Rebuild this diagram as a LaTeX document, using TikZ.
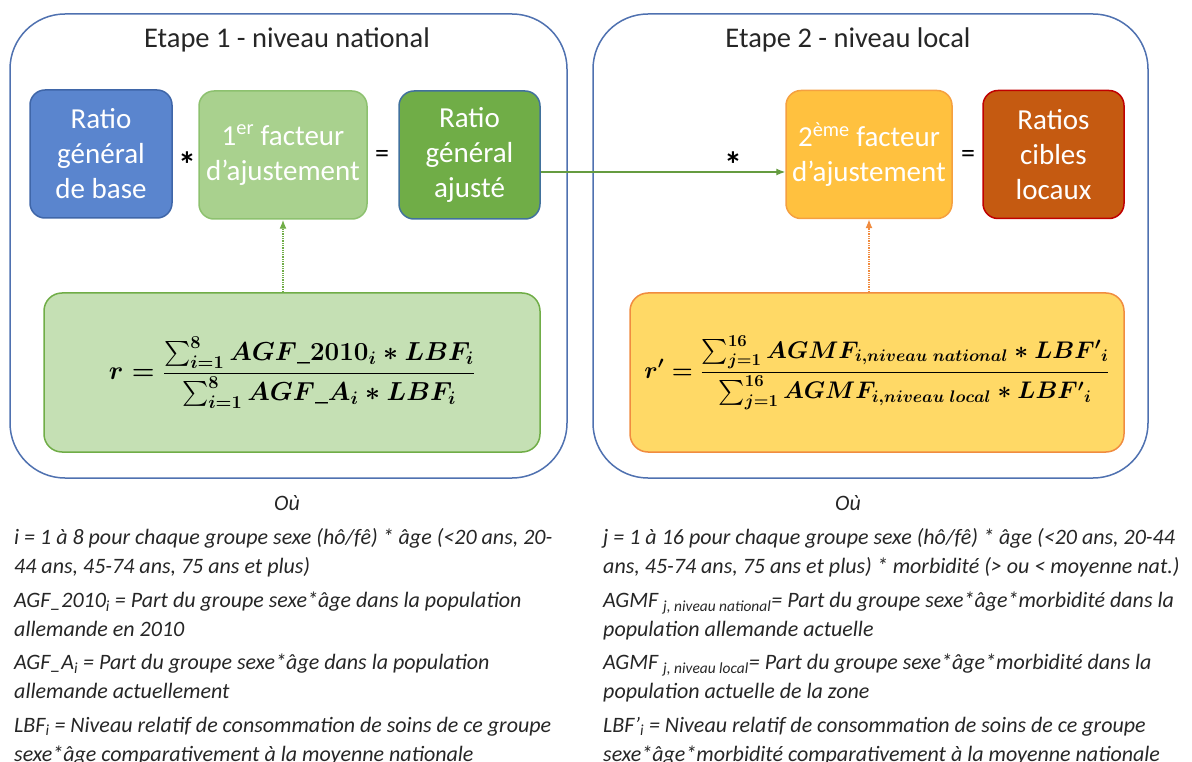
\RequirePackage{fix-cm}
\documentclass[tikz,border=0pt]{standalone}
\usepackage{amsmath}
\usepackage{fontspec}
\setmainfont{Carlito}
\usepackage{xcolor}
\usetikzlibrary{positioning,arrows.meta,calc}
\definecolor{uFrame}{HTML}{4F71B0}
\definecolor{uBase}{HTML}{5A85CE}
\definecolor{uBaseLine}{HTML}{3F66A8}
\definecolor{uFacA}{HTML}{A9D18E}
\definecolor{uFacALine}{HTML}{8DC16F}
\definecolor{uAdj}{HTML}{70AD47}
\definecolor{uAdjLine}{HTML}{41719C}
\definecolor{uFacB}{HTML}{FFC13F}
\definecolor{uFacBLine}{HTML}{F5A040}
\definecolor{uCible}{HTML}{C55A11}
\definecolor{uCibleLine}{HTML}{C00000}
\definecolor{uFormA}{HTML}{C5E0B4}
\definecolor{uFormB}{HTML}{FFD966}
\definecolor{uFormBLine}{HTML}{F08C40}
\definecolor{uInk}{HTML}{262626}
\tikzset{
  stagebox/.style={draw=uFrame, line width=1.5pt, rounded corners=55pt,
                   minimum width=557pt, minimum height=464pt, inner sep=0pt},
  blk/.style={rounded corners=15pt, line width=1.5pt, align=center,
              text=white, font=\fontsize{29}{35}\selectfont,
              minimum height=128pt, inner sep=0pt},
  formbox/.style={rounded corners=18pt, line width=1.5pt,
                  minimum height=159pt, inner sep=0pt, text=black},
  title/.style={font=\fontsize{28.5}{32}\selectfont, text=uInk, inner sep=0pt},
  op/.style={font=\fontsize{28}{30}\selectfont, text=black, inner sep=0pt},
  mul/.style={op, font=\fontsize{36}{38}\selectfont\bfseries},
  flow/.style={-{Latex[length=9pt, width=7pt]}, line width=1.5pt},
  feed/.style={-{Latex[length=9pt, width=7pt]}, line width=1.3pt, densely dotted},
  note/.style={font=\fontsize{22}{29}\selectfont\itshape, text=uInk,
               align=left, inner sep=0pt, anchor=north west},
}
\newcommand{\us}{\mbox{\_}}
\newsavebox{\formboxA}
\newsavebox{\formboxB}

\begin{document}
\sbox{\formboxA}{\fontsize{26}{32}\selectfont\boldmath
  $\displaystyle r = \frac{\sum\nolimits_{i=1}^{8} AGF\us 2010_i * LBF_i}%
    {\sum\nolimits_{i=1}^{8} AGF\us A_i * LBF_i}$}%
\sbox{\formboxB}{\fontsize{24}{30}\selectfont\boldmath
  $\displaystyle r' = \frac{\sum\nolimits_{j=1}^{16} AGMF_{i,niveau\ national} * {LBF'}_i}%
    {\sum\nolimits_{j=1}^{16} AGMF_{i,niveau\ local} * {LBF'}_i}$}%
\begin{tikzpicture}[x=1pt, y=-1pt]
\useasboundingbox (0,0) rectangle (1192,762);

%% ── the two stages ───────────────────────────────────────────────────────
\node[stagebox] (st1) at (288.5,246) {};
\node[stagebox, minimum width=555pt] (st2) at (870.5,246) {};
\node[title] (t1) at (287,40) {Etape 1 - niveau national};
\node[title] (t2) at (848,40) {Etape 2 - niveau local};

%% ── national level ───────────────────────────────────────────────────────
\node[blk, fill=uBase, draw=uBaseLine, minimum width=142pt] (base) at (101,154)
  {Ratio\\général\\de base};
\node[blk, fill=uFacA, draw=uFacALine, minimum width=168pt] (facA) at (283,155)
  {1\textsuperscript{er} facteur\\d’ajustement};
\node[blk, fill=uAdj, draw=uAdjLine, minimum width=141pt] (adj) at (469.5,155)
  {Ratio\\général\\ajusté};
\node[mul] (mulA) at (187,165) {*};
\node[op] (eqA) at (382,156) {=};
\node[formbox, fill=uFormA, draw=uAdj, minimum width=496pt] (formA) at (292,372.5)
  {\usebox{\formboxA}};

%% ── local level ──────────────────────────────────────────────────────────
\node[blk, fill=uFacB, draw=uFacBLine, minimum width=166pt] (facB) at (869,154.5)
  {2\textsuperscript{ème} facteur\\d’ajustement};
\node[blk, fill=uCible, draw=uCibleLine, minimum width=141pt] (cible) at (1053.5,154.5)
  {Ratios\\cibles\\locaux};
\node[mul] (mulB) at (733,165) {*};
\node[op] (eqB) at (968,156) {=};
\node[formbox, fill=uFormB, draw=uFormBLine, minimum width=494pt] (formB) at (877,372.5)
  {\usebox{\formboxB}};

%% ── connectors ───────────────────────────────────────────────────────────
\draw[flow, draw=uAdj!90!black, line width=1.2pt]
  ($(adj.east)+(0,17)$) -- ($(facB.west)+(0,17.5)$);
\draw[feed, draw=uAdj] (formA.north -| facA.south) -- (facA.south);
\draw[feed, draw=uFormBLine] (formB.north -| facB.south) -- (facB.south);

%% ── legends ──────────────────────────────────────────────────────────────
\node[note, anchor=center] (ouA) at (287,503) {Où};
\node[note, anchor=center] (ouB) at (848,503) {Où};

\node[note] (iA) at (14,528)
  {i = 1 à 8 pour chaque groupe sexe (hô/fê) * âge (<20 ans, 20-\\
   44 ans, 45-74 ans, 75 ans et plus)};
\node[note] (agf) at (14,592)
  {AGF\_2010\textsubscript{i} = Part du groupe sexe*âge dans la population\\
   allemande en 2010};
\node[note] (agfa) at (14,654)
  {AGF\_A\textsubscript{i} = Part du groupe sexe*âge dans la population\\
   allemande actuellement};
\node[note] (lbf) at (14,717)
  {LBF\textsubscript{i} = Niveau relatif de consommation de soins de ce groupe\\
   sexe*âge comparativement à la moyenne nationale};

\node[note] (jB) at (603,528)
  {j = 1 à 16 pour chaque groupe sexe (hô/fê) * âge (<20 ans, 20-44\\
   ans, 45-74 ans, 75 ans et plus) * morbidité (> ou < moyenne nat.)};
\node[note] (agmfN) at (603,592)
  {AGMF \textsubscript{j, niveau national}= Part du groupe sexe*âge*morbidité dans la\\
   population allemande actuelle};
\node[note] (agmfL) at (603,654)
  {AGMF \textsubscript{j, niveau local}= Part du groupe sexe*âge*morbidité dans la\\
   population actuelle de la zone};
\node[note] (lbfB) at (603,717)
  {LBF’\textsubscript{i} = Niveau relatif de consommation de soins de ce groupe\\
   sexe*âge*morbidité comparativement à la moyenne nationale};

\end{tikzpicture}
\end{document}
